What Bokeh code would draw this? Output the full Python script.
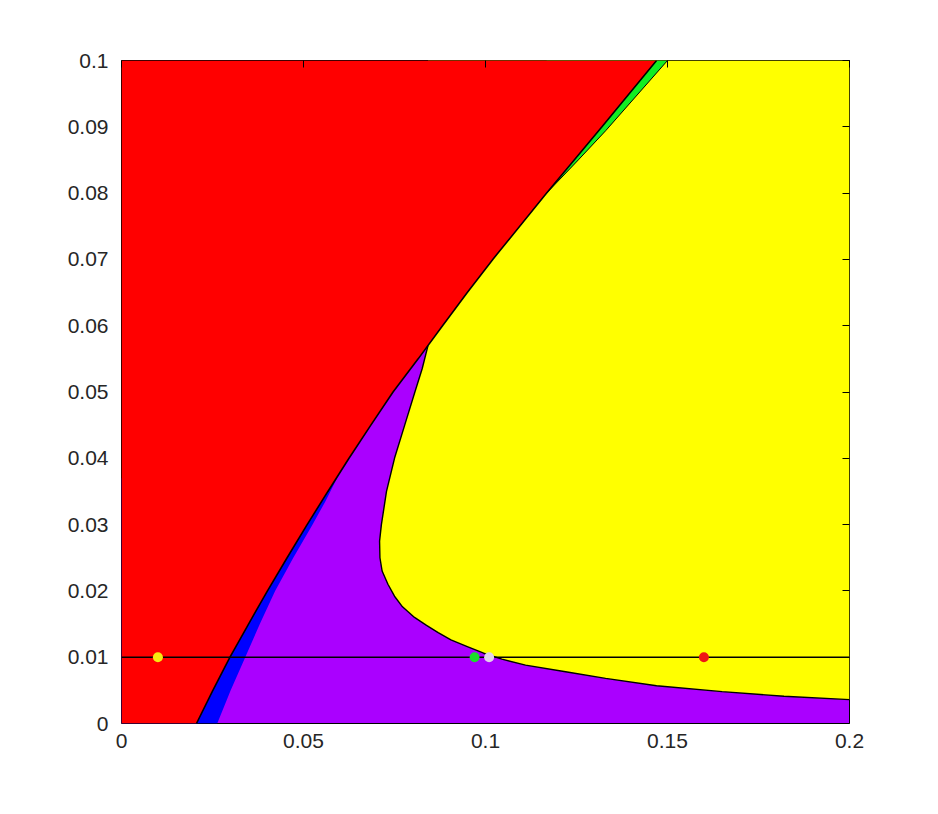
from bokeh.plotting import figure
from bokeh.models import Range1d, LinearAxis, FixedTicker, CustomJSTickFormatter
from bokeh.embed import file_html
from bokeh.resources import INLINE

# ---- data ----
# red region boundary (left of it is red)
red_x = [0.0206, 0.0251, 0.0298, 0.0349, 0.0401, 0.0455, 0.0510, 0.0567, 0.0625, 0.0685, 0.0746, 0.0815, 0.0882, 0.0950, 0.1020, 0.1168, 0.1320, 0.1470]
red_y = [0.0000, 0.0050, 0.0100, 0.0150, 0.0200, 0.0250, 0.0300, 0.0350, 0.0400, 0.0450, 0.0500, 0.0550, 0.0600, 0.0650, 0.0700, 0.0800, 0.0900, 0.1000]
# right edge of the thin blue strip
blue_x = [0.0263, 0.0300, 0.0340, 0.0380, 0.0422, 0.0472, 0.0525, 0.0560, 0.0592]
blue_y = [0.0000, 0.0050, 0.0100, 0.0150, 0.0200, 0.0250, 0.0300, 0.0335, 0.0370]
# right edge of the thin green strip
green_x = [0.1168, 0.1255, 0.1330, 0.1500]
green_y = [0.0800, 0.0850, 0.0894, 0.1000]
# yellow / purple boundary
yel_x = [0.0842, 0.0826, 0.0806, 0.0778, 0.0750, 0.0728, 0.0714, 0.0709, 0.0710, 0.0716, 0.0732, 0.0750, 0.0772,
         0.0805, 0.0838, 0.0870, 0.0905, 0.0950, 0.0995, 0.1045, 0.1110, 0.1220, 0.1330, 0.1470, 0.1650, 0.1820, 0.2000]
yel_y = [0.0570, 0.0535, 0.0500, 0.0450, 0.0400, 0.0350, 0.0300, 0.0275, 0.0250, 0.0230, 0.0210, 0.0192, 0.0176,
         0.0160, 0.0148, 0.0137, 0.0126, 0.0116, 0.0106, 0.0097, 0.0088, 0.0078, 0.0068, 0.0057, 0.0048, 0.0041, 0.0036]
# horizontal line and marked points
line_y = 0.01
pt_x = [0.010, 0.097, 0.101, 0.160]
pt_y = [0.010, 0.010, 0.010, 0.010]
pt_colors = ["#f7ea10", "#19dd2a", "#e2d2e8", "#ee1515"]
x_ticks = [0, 0.05, 0.1, 0.15, 0.2]
y_ticks = [0, 0.01, 0.02, 0.03, 0.04, 0.05, 0.06, 0.07, 0.08, 0.09, 0.1]

XMIN, XMAX, YMIN, YMAX = 0.0, 0.2, 0.0, 0.1

p = figure(output_backend="svg", toolbar_location=None,
           frame_width=728, frame_height=663,
           x_range=Range1d(XMIN, XMAX), y_range=Range1d(YMIN, YMAX),
           min_border_left=121, min_border_top=60, min_border_right=60, min_border_bottom=70)
p.background_fill_color = "#aa00ff"
p.border_fill_color = "white"
p.grid.visible = False
p.outline_line_color = "#000000"
p.outline_line_width = 1

# blue strip
p.patch(blue_x + [XMIN, XMIN], blue_y + [blue_y[-1], YMIN], fill_color="#0000ff", line_color=None)
# yellow region
p.patch(yel_x + [XMAX, yel_x[0]], yel_y + [YMAX, YMAX], fill_color="#ffff00", line_color=None)
# green strip
p.patch(green_x + [green_x[0]], green_y + [YMAX], fill_color="#11ee22", line_color=None)
# red region
p.patch([XMIN] + red_x + [XMIN], [YMIN] + red_y + [YMAX], fill_color="#ff0000", line_color=None)

# boundaries
p.line(yel_x, yel_y, line_color="black", line_width=1.4)
p.line(green_x, green_y, line_color="black", line_width=1.0)
p.line(red_x, red_y, line_color="black", line_width=1.6)

# horizontal line and points
p.line([XMIN, XMAX], [line_y, line_y], line_color="black", line_width=1.6)
p.scatter(pt_x, pt_y, size=10, fill_color=pt_colors, line_color=None)

fmt = CustomJSTickFormatter(code="return tick.toFixed(2).replace(/0+$/, '').replace(/\\.$/, '');")
blank = CustomJSTickFormatter(code="return '';")
font = "Liberation Sans"
for ax in (p.xaxis[0], p.yaxis[0]):
    ax.axis_line_color = None
    ax.major_tick_in = 0
    ax.major_tick_out = 0
    ax.minor_tick_line_color = None
    ax.formatter = fmt
    ax.major_label_text_font = font
    ax.major_label_text_font_size = "21px"
    ax.major_label_text_color = "#262626"
p.xaxis[0].ticker = FixedTicker(ticks=x_ticks)
p.yaxis[0].ticker = FixedTicker(ticks=y_ticks)
p.xaxis[0].major_label_standoff = 10
p.yaxis[0].major_label_standoff = 13

right = LinearAxis(ticker=FixedTicker(ticks=y_ticks), major_tick_in=7, major_tick_out=0,
                   minor_tick_line_color=None, axis_line_color=None, formatter=blank,
                   major_label_standoff=0)
top = LinearAxis(ticker=FixedTicker(ticks=x_ticks), major_tick_in=7, major_tick_out=0,
                 minor_tick_line_color=None, axis_line_color=None, formatter=blank,
                 major_label_standoff=0)
p.add_layout(right, "right")
p.add_layout(top, "above")

open("out.html", "w").write(file_html(p, INLINE))
